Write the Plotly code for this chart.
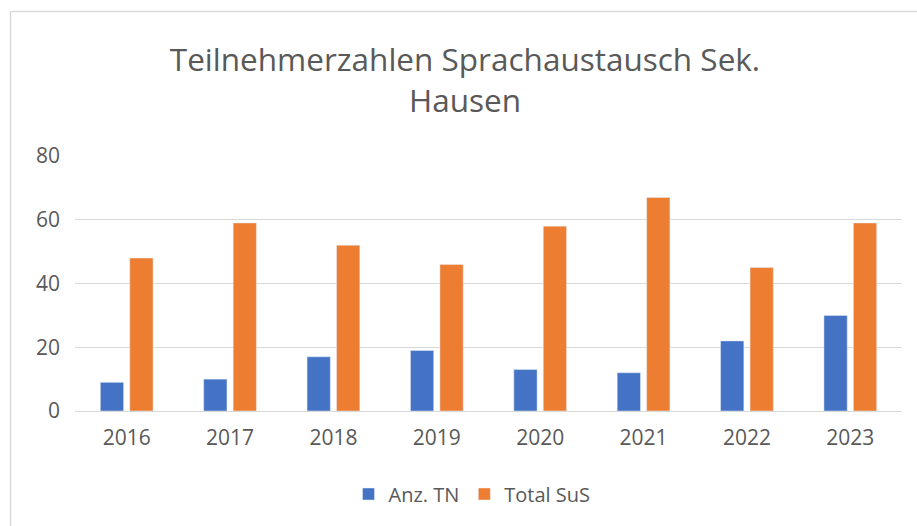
import plotly.graph_objects as go

years = ["2016", "2017", "2018", "2019", "2020", "2021", "2022", "2023"]
anz_tn = [9, 10, 17, 19, 13, 12, 22, 30]
total_sus = [48, 59, 52, 46, 58, 67, 45, 59]
y_ticks = [0, 20, 40, 60, 80]

W, H = 917, 526
L, R, T, B = 75, 15, 156, 115
pw, ph = W - L - R, H - T - B

def px(x):
    return (x - L) / pw

def py(y):
    return (H - B - y) / ph

font = "Open Sans, Lato, sans-serif"
grey = "#595959"

fig = go.Figure()
fig.add_trace(go.Bar(x=years, y=anz_tn, name="Anz. TN", marker_color="#4472C4"))
fig.add_trace(go.Bar(x=years, y=total_sus, name="Total SuS", marker_color="#ED7D31"))

fig.update_layout(
    width=W, height=H,
    margin=dict(l=L, r=R, t=T, b=B),
    paper_bgcolor="white", plot_bgcolor="white",
    barmode="group", bargap=0.43, bargroupgap=0.21,
    font=dict(family=font, color=grey),
    title=dict(
        text="Teilnehmerzahlen Sprachaustausch Sek.<br>Hausen",
        x=465 / W, xanchor="center", xref="container",
        y=1 - 71 / H, yanchor="middle", yref="container",
        font=dict(size=31.5, color=grey, family=font),
    ),
    showlegend=True,
    legend=dict(
        orientation="h", x=px(472), xanchor="center", y=py(494), yanchor="middle",
        font=dict(size=20, color=grey), itemwidth=30, tracegroupgap=0,
    ),
    xaxis=dict(
        showgrid=False, showline=False, zeroline=False,
        tickfont=dict(size=21, color=grey), ticklabelstandoff=12,
    ),
    yaxis=dict(
        range=[0, 80], tickvals=y_ticks, showgrid=True, gridcolor="#d9d9d9", gridwidth=1.3,
        zeroline=True, zerolinecolor="#d9d9d9", zerolinewidth=1.3, showline=False,
        tickfont=dict(size=21, color=grey), ticklabelstandoff=14,
    ),
    shapes=[
        dict(type="line", xref="paper", yref="paper", x0=px(10.5), x1=px(10.5),
             y0=py(11.5), y1=py(530), line=dict(color="#d9d9d9", width=1.5)),
        dict(type="line", xref="paper", yref="paper", x0=px(10.5), x1=px(920),
             y0=py(11.5), y1=py(11.5), line=dict(color="#d9d9d9", width=1.5)),
    ],
)

fig.write_html("out.html")
